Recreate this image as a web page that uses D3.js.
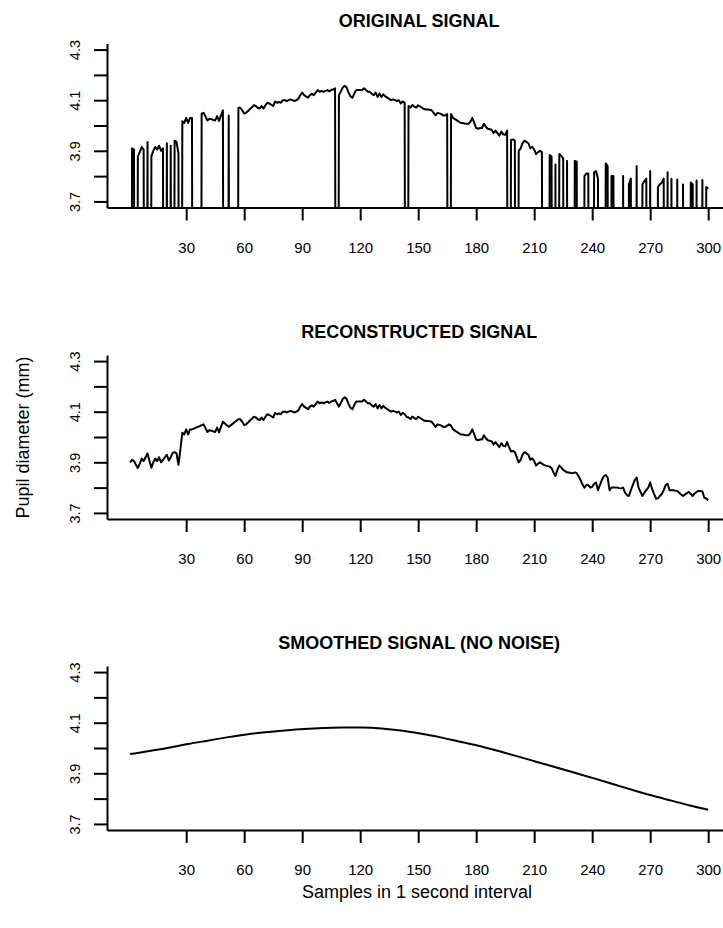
<!DOCTYPE html>
<html>
<head>
<meta charset="utf-8">
<script src="https://cdn.jsdelivr.net/npm/d3@7"></script>
<style>
  body { margin: 0; background: #fff; }
  svg { display: block; }
  text { font-family: "Liberation Sans", Arial, Helvetica, sans-serif; fill: #000; }
</style>
</head>
<body>
<svg id="chart" width="723" height="928"></svg>
<script>
// Pupil diameter (mm) for samples 1..300 after gap filling
const reconstructed = [
  3.900, 3.910, 3.905, 3.890, 3.878, 3.895, 3.915, 3.905, 3.920, 3.935,
  3.905, 3.879, 3.900, 3.915, 3.905, 3.920, 3.900, 3.910, 3.920, 3.930,
  3.907, 3.920, 3.937, 3.940, 3.935, 3.890, 3.950, 4.017, 4.010, 4.030,
  4.010, 4.030, 4.030, 4.033, 4.037, 4.040, 4.043, 4.047, 4.050, 4.035,
  4.020, 4.027, 4.025, 4.022, 4.020, 4.037, 4.018, 4.040, 4.060, 4.053,
  4.047, 4.040, 4.046, 4.052, 4.058, 4.064, 4.070, 4.070, 4.060, 4.047,
  4.050, 4.057, 4.065, 4.072, 4.080, 4.077, 4.070, 4.067, 4.077, 4.067,
  4.080, 4.090, 4.087, 4.082, 4.077, 4.095, 4.090, 4.093, 4.090, 4.100,
  4.100, 4.097, 4.100, 4.103, 4.100, 4.097, 4.100, 4.105, 4.120, 4.130,
  4.120, 4.115, 4.110, 4.120, 4.125, 4.120, 4.130, 4.140, 4.133, 4.137,
  4.133, 4.137, 4.140, 4.135, 4.140, 4.142, 4.147, 4.133, 4.120, 4.135,
  4.150, 4.157, 4.150, 4.130, 4.115, 4.110, 4.127, 4.140, 4.140, 4.140,
  4.140, 4.147, 4.140, 4.133, 4.133, 4.125, 4.120, 4.130, 4.113, 4.127,
  4.113, 4.123, 4.115, 4.110, 4.105, 4.100, 4.103, 4.100, 4.097, 4.100,
  4.087, 4.095, 4.090, 4.080, 4.077, 4.071, 4.081, 4.075, 4.071, 4.080,
  4.075, 4.070, 4.065, 4.063, 4.063, 4.062, 4.060, 4.050, 4.040, 4.050,
  4.048, 4.045, 4.040, 4.040, 4.045, 4.050, 4.045, 4.030, 4.025, 4.020,
  4.015, 4.010, 4.010, 4.008, 4.007, 4.007, 4.015, 4.030, 4.010, 3.990,
  3.987, 3.990, 3.990, 4.007, 3.995, 3.987, 3.985, 3.983, 3.970, 3.980,
  3.970, 3.960, 3.976, 3.965, 3.963, 3.980, 3.960, 3.943, 3.945, 3.940,
  3.920, 3.900, 3.910, 3.930, 3.940, 3.935, 3.930, 3.910, 3.916, 3.905,
  3.887, 3.895, 3.900, 3.895, 3.890, 3.887, 3.885, 3.883, 3.877, 3.860,
  3.846, 3.870, 3.887, 3.880, 3.870, 3.865, 3.860, 3.860, 3.858, 3.857,
  3.860, 3.857, 3.845, 3.830, 3.812, 3.800, 3.810, 3.810, 3.800, 3.803,
  3.815, 3.820, 3.790, 3.810, 3.830, 3.845, 3.850, 3.840, 3.790, 3.800,
  3.800, 3.800, 3.800, 3.798, 3.797, 3.800, 3.780, 3.770, 3.767, 3.790,
  3.810, 3.830, 3.840, 3.800, 3.783, 3.767, 3.780, 3.790, 3.800, 3.820,
  3.795, 3.775, 3.757, 3.757, 3.767, 3.775, 3.790, 3.810, 3.815, 3.790,
  3.790, 3.790, 3.788, 3.787, 3.780, 3.773, 3.767, 3.773, 3.778, 3.783,
  3.775, 3.767, 3.777, 3.783, 3.787, 3.787, 3.785, 3.760, 3.757, 3.750
];

// Sample ranges (inclusive) lost in the raw recording; they read as 0 there
const dropouts = [
  [1, 1], [4, 4], [9, 9], [11, 11], [19, 19], [21, 21], [23, 23], [27, 27],
  [34, 37], [50, 51], [53, 56], [108, 108], [144, 144], [166, 166],
  [197, 197], [201, 201], [215, 217], [220, 220], [222, 222], [226, 226],
  [228, 230], [233, 235], [239, 240], [244, 246], [249, 249], [252, 255],
  [257, 258], [261, 262], [264, 265], [269, 269], [271, 273], [278, 278],
  [280, 280], [282, 283], [285, 286], [288, 290], [293, 293], [295, 296],
  [298, 298]
];

// Low-frequency trend, sampled every 10 samples
const smoothSamples = [1, 11, 21, 31, 41, 51, 61, 71, 81, 91, 101, 111, 121, 131, 141,
  151, 161, 171, 181, 191, 201, 211, 221, 231, 241, 251, 261, 271, 281, 291, 300];
const smoothValues = [3.976, 3.988, 4.001, 4.016, 4.029, 4.042, 4.053, 4.062, 4.069, 4.075,
  4.079, 4.081, 4.081, 4.077, 4.069, 4.057, 4.043, 4.026, 4.009, 3.989, 3.968, 3.946,
  3.924, 3.902, 3.880, 3.857, 3.834, 3.812, 3.792, 3.772, 3.756];

const xTicks = [30, 60, 90, 120, 150, 180, 210, 240, 270, 300];
const yTicks = [3.7, 3.8, 3.9, 4.0, 4.1, 4.2, 4.3];
const yLabelled = [3.7, 3.9, 4.1, 4.3];
const titles = ["ORIGINAL SIGNAL", "RECONSTRUCTED SIGNAL", "SMOOTHED SIGNAL (NO NOISE)"];
const xLabel = "Samples in 1 second interval";
const yLabel = "Pupil diameter (mm)";

const samples = d3.range(1, reconstructed.length + 1);
const missing = new Set();
dropouts.forEach(([a, b]) => { for (let s = a; s <= b; s++) missing.add(s); });
const original = samples.map((s, k) => (missing.has(s) ? 0 : reconstructed[k]));

const series = [
  samples.map((s, k) => [s, original[k]]),
  samples.map((s, k) => [s, reconstructed[k]]),
  smoothSamples.map((s, k) => [s, smoothValues[k]])
];

const svg = d3.select("#chart");
const panelTop = [0, 311.5, 622.5];
const plot = { left: 107, right: 731.3, top: 43.5, bottom: 207.5 };
const lw = 2;

// R-style 4% padding around the data range
const xPad = (300 - 1) * 0.04;
const x = d3.scaleLinear().domain([1 - xPad, 300 + xPad]).range([plot.left, plot.right]);
const yPad = (4.3 - 3.7) * 0.04;
const y = d3.scaleLinear().domain([3.7 - yPad, 4.3 + yPad]).range([plot.bottom, plot.top]);

series.forEach((data, p) => {
  const g = svg.append("g").attr("transform", `translate(0,${panelTop[p]})`);

  g.append("text")
    .attr("x", (plot.left + plot.right) / 2)
    .attr("y", 26.7)
    .attr("text-anchor", "middle")
    .style("font-weight", "bold")
    .style("font-size", "18px")
    .text(titles[p]);

  const clipId = `clip${p}`;
  g.append("clipPath").attr("id", clipId)
    .append("rect")
    .attr("x", plot.left).attr("y", plot.top)
    .attr("width", plot.right - plot.left).attr("height", plot.bottom - plot.top);

  const line = d3.line()
    .x(d => x(d[0]))
    .y(d => y(d[1]))
    .curve(p === 2 ? d3.curveNatural : d3.curveLinear);

  g.append("path")
    .datum(data)
    .attr("clip-path", `url(#${clipId})`)
    .attr("fill", "none")
    .attr("stroke", "#000")
    .attr("stroke-width", lw)
    .attr("stroke-linejoin", "round")
    .attr("d", line);

  // bottom axis
  const xa = g.append("g")
    .attr("transform", `translate(0,${plot.bottom})`)
    .call(d3.axisBottom(x).tickValues(xTicks).tickSize(13).tickSizeOuter(0).tickFormat(d3.format("d")));
  xa.selectAll(".tick text").attr("y", 45).attr("dy", null).style("font-size", "15px");

  // left axis
  const ya = g.append("g")
    .attr("transform", `translate(${plot.left},0)`)
    .call(d3.axisLeft(y).tickValues(yTicks).tickSize(13).tickSizeOuter(0)
      .tickFormat(d => (yLabelled.some(v => Math.abs(v - d) < 1e-9) ? d3.format(".1f")(d) : "")));
  ya.selectAll(".tick text")
    .attr("transform", "rotate(-90)")
    .attr("x", 0).attr("y", -27.5).attr("dy", null)
    .attr("text-anchor", "middle")
    .style("font-size", "14.5px");

  [xa, ya].forEach(a => {
    a.attr("font-family", null).attr("font-size", null);
    a.selectAll("path, line").attr("stroke", "#000").attr("stroke-width", lw);
  });
});

svg.append("text")
  .attr("x", 417).attr("y", 898)
  .attr("text-anchor", "middle")
  .style("font-size", "18px")
  .text(xLabel);

svg.append("text")
  .attr("transform", "translate(29,437.5) rotate(-90)")
  .attr("text-anchor", "middle")
  .style("font-size", "18px")
  .text(yLabel);
</script>
</body>
</html>
